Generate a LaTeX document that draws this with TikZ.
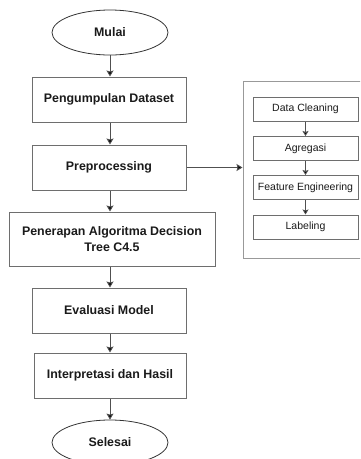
\documentclass[tikz,border=0pt]{standalone}
\usepackage{fontspec}
\setmainfont{Liberation Sans}
\usetikzlibrary{arrows.meta,shapes.geometric}
\definecolor{linegray}{HTML}{6E6E6E}
\definecolor{arrowgray}{HTML}{505050}
\definecolor{textcol}{HTML}{1A1A1A}
\begin{document}
\begin{tikzpicture}[x=1pt,y=-1pt,
  mainbox/.style={draw=linegray, line width=1pt, minimum width=154pt, minimum height=45pt,
    font=\fontsize{12.4}{15.5}\selectfont\bfseries, text=textcol, align=center, inner sep=0pt},
  term/.style={ellipse, draw=black!80, line width=0.8pt, minimum width=116pt, minimum height=45pt,
    font=\fontsize{12.4}{15.5}\selectfont\bfseries, text=textcol, inner sep=0pt},
  subbox/.style={draw=linegray, line width=1pt, minimum width=105pt, minimum height=24pt,
    font=\fontsize{10.5}{12.5}\selectfont, text=textcol, inner sep=0pt},
  panelbox/.style={draw=linegray!70, line width=1pt, minimum width=123pt, minimum height=177pt, inner sep=0pt},
  flow/.style={draw=arrowgray, line width=0.9pt, -{Stealth[length=6pt,width=7pt,inset=1pt,fill=black]}},
  subflow/.style={draw=arrowgray, line width=0.8pt, -{Stealth[length=5pt,width=6pt,inset=1pt,fill=black]}}
]
\useasboundingbox (0,0) rectangle (360,459);
\clip (0,0) rectangle (360,459);
\node[term] (mulai) at (110,32.5) {Mulai};
\node[mainbox] (pd) at (109,99.5) {Pengumpulan Dataset};
\node[mainbox] (pre) at (109,167.5) {Preprocessing};
\node[mainbox, minimum width=206pt, minimum height=54pt] (pen) at (112,239) {Penerapan Algoritma Decision\\Tree C4.5};
\node[mainbox] (eval) at (109,310.5) {Evaluasi Model};
\node[mainbox, minimum width=152pt] (interp) at (110,375.5) {Interpretasi dan Hasil};
\node[term] (selesai) at (110,442.5) {Selesai};

\node[panelbox] (panel) at (304.5,169.5) {};
\node[subbox] (dc) at (305.5,109) {Data Cleaning};
\node[subbox] (ag) at (305.5,148.5) {Agregasi};
\node[subbox] (fe) at (305.5,187.5) {Feature Engineering};
\node[subbox] (lb) at (305.5,227) {Labeling};

\draw[flow] (mulai.south -| 110,0) -- (pd.north -| 110,0);
\draw[flow] (pd.south -| 110,0) -- (pre.north -| 110,0);
\draw[flow] (pre.south -| 110,0) -- (pen.north -| 110,0);
\draw[flow] (pen.south -| 110,0) -- (eval.north -| 110,0);
\draw[flow] (eval.south -| 110,0) -- (interp.north -| 110,0);
\draw[flow] (interp.south -| 110,0) -- (selesai.north -| 110,0);
\draw[flow] (pre.east) -- (pre.east -| panel.west);

\draw[subflow] (dc) -- (ag);
\draw[subflow] (ag) -- (fe);
\draw[subflow] (fe) -- (lb);
\end{tikzpicture}
\end{document}
